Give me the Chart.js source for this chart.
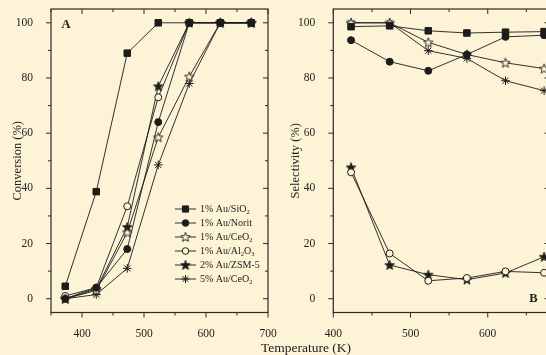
<!DOCTYPE html>
<html>
<head>
<meta charset="utf-8">
<script src="https://cdn.jsdelivr.net/npm/chart.js@4.4.1/dist/chart.umd.min.js"></script>
<style>
  html, body { margin: 0; padding: 0; width: 546px; height: 355px; overflow: hidden; background: #fdf3d6; }
  canvas { position: absolute; top: 0; }
  #chartA { left: 0; }
  #chartB { left: 280px; }
  #xTitle { position: absolute; left: 206px; width: 200px; top: 340.5px; text-align: center;
            font: 13.5px 'Liberation Serif', serif; line-height: 13.5px; color: #222; }
</style>
</head>
<body>
<canvas id="chartA" width="285" height="355"></canvas>
<canvas id="chartB" width="290" height="355"></canvas>
<div id="xTitle">Temperature (K)</div>
<script>
// Valores: conversão (A) e seletividade (B) vs temperatura
const tempA = [373, 423, 473, 523, 573, 623, 673];
const tempB = [423, 473, 523, 573, 623, 673];
const catalysts = ['1% Au/SiO_2', '1% Au/Norit', '1% Au/CeO_2', '1% Au/Al_2O_3', '2% Au/ZSM-5', '5% Au/CeO_2'];

const convSiO2 = [4.5, 38.8, 89, 100, 100, 100, 100];
const convNorit = [0, 4, 18, 64, 100, 100, 100];
const convCeO2 = [0, 3, 24, 58.5, 80.5, 100, 100];
const convAl2O3 = [1, 4, 33.5, 73, 100, 100, 100];
const convZSM5 = [0, 3.5, 26, 77, 100, 100, 100];
const conv5CeO2 = [0, 1.5, 11, 48.5, 78, 100, 100];

const selSiO2 = [98.6, 98.9, 97.1, 96.3, 96.6, 96.8];
const selNorit = [93.7, 85.9, 82.6, 88.5, 94.9, 95.5];
const selCeO2 = [100, 100, 92.9, 88.5, 85.5, 83.4];
const selAl2O3 = [45.8, 16.4, 6.5, 7.5, 9.9, 9.4];
const selZSM5 = [47.6, 12.2, 8.7, 6.9, 9.3, 15.2];
const sel5CeO2 = [100, 100, 89.9, 87.1, 79, 75.4];

const xTicksA = [400, 500, 600, 700];
const xTicksB = [400, 500, 600];
const yTicks = [0, 20, 40, 60, 80, 100];

const INK = '#1c1c1c';
const BG = '#fdf3d6';
const SERIF = "'Liberation Serif', 'Times New Roman', serif";

// estrela de 5 pontas (cheia ou vazada) como imagem de marcador
function makeStar(filled) {
  const c = document.createElement('canvas');
  c.width = c.height = 12;
  const g = c.getContext('2d');
  const cx = 6, cy = 6.4, R = 5, r = 2.1;
  g.beginPath();
  for (let i = 0; i < 10; i++) {
    const a = -Math.PI / 2 + i * Math.PI / 5;
    const rr = i % 2 ? r : R;
    g.lineTo(cx + rr * Math.cos(a), cy + rr * Math.sin(a));
  }
  g.closePath();
  g.fillStyle = filled ? INK : BG;
  g.fill();
  g.strokeStyle = INK;
  g.lineWidth = 0.9;
  g.stroke();
  return c;
}

const markers = [
  { pointStyle: 'rect', radius: 4.6, fill: INK },
  { pointStyle: 'circle', radius: 3.5, fill: INK },
  { pointStyle: makeStar(false), radius: 5, fill: BG },
  { pointStyle: 'circle', radius: 3.5, fill: BG },
  { pointStyle: makeStar(true), radius: 5, fill: INK },
  { pointStyle: 'star', radius: 4.3, fill: INK }
];

function buildDatasets(xs, series) {
  return series.map((ys, i) => ({
    label: catalysts[i],
    data: xs.map((x, j) => ({ x, y: ys[j] })),
    borderColor: INK,
    borderWidth: 0.9,
    pointStyle: markers[i].pointStyle,
    pointRadius: markers[i].radius,
    pointBackgroundColor: markers[i].fill,
    pointBorderColor: INK,
    pointBorderWidth: 1,
    tension: 0
  }));
}

// texto com subscrito simples: "_2" vira 2 subscrito
function drawRich(ctx, text, x, y, size) {
  let cx = x;
  for (let i = 0; i < text.length; i++) {
    if (text[i] === '_' && i + 1 < text.length) {
      ctx.font = `${size * 0.65}px ${SERIF}`;
      ctx.fillText(text[i + 1], cx, y + size * 0.3);
      cx += ctx.measureText(text[i + 1]).width;
      i++;
    } else {
      ctx.font = `${size}px ${SERIF}`;
      ctx.fillText(text[i], cx, y);
      cx += ctx.measureText(text[i]).width;
    }
  }
}

// moldura com marcas: fora em baixo/esquerda, dentro em cima/direita
const framePlugin = {
  id: 'frame',
  beforeDatasetsDraw(chart, args, opts) {
    const { ctx, chartArea: a } = chart;
    const xs = chart.scales.x, ys = chart.scales.y;
    ctx.save();
    ctx.strokeStyle = '#2a2a2a';
    ctx.lineWidth = 1.2;
    ctx.strokeRect(a.left, a.top, a.right - a.left, a.bottom - a.top);
    ctx.lineWidth = 1;
    ctx.beginPath();
    const xStep = 50;
    for (let v = Math.ceil(xs.min / xStep) * xStep; v <= xs.max; v += xStep) {
      const px = xs.getPixelForValue(v);
      const len = v % 100 === 0 ? 5 : 3;
      ctx.moveTo(px, a.bottom); ctx.lineTo(px, a.bottom + len);
      ctx.moveTo(px, a.top); ctx.lineTo(px, a.top + len);
    }
    for (let v = 0; v <= 100; v += 10) {
      const py = ys.getPixelForValue(v);
      const len = v % 20 === 0 ? 5 : 3;
      ctx.moveTo(a.left, py); ctx.lineTo(a.left - len, py);
      ctx.moveTo(a.right, py); ctx.lineTo(a.right - len, py);
    }
    ctx.stroke();
    ctx.restore();
  },
  afterDatasetsDraw(chart, args, opts) {
    const { ctx, chartArea: a } = chart;
    ctx.save();
    ctx.fillStyle = INK;
    ctx.font = `bold 12.5px ${SERIF}`;
    ctx.textAlign = 'center';
    ctx.textBaseline = 'middle';
    if (opts.label) ctx.fillText(opts.label, opts.corner === 'tl' ? a.left + 15 : a.right - 16, opts.corner === 'tl' ? a.top + 16 : a.bottom - 13.5);

    if (opts.legend) {
      const rowY = 209, dy = 14;
      ctx.textAlign = 'left';
      catalysts.forEach((name, i) => {
        const y = rowY + i * dy;
        ctx.strokeStyle = INK;
        ctx.lineWidth = 0.9;
        ctx.beginPath();
        ctx.moveTo(175, y); ctx.lineTo(196, y);
        ctx.stroke();
        ctx.fillStyle = markers[i].fill;
        ctx.strokeStyle = INK;
        ctx.lineWidth = 1;
        Chart.helpers.drawPoint(ctx, { pointStyle: markers[i].pointStyle, rotation: 0, radius: markers[i].radius * 0.95, borderWidth: 1 }, 185.5, y);
        ctx.fillStyle = INK;
        ctx.textBaseline = 'middle';
        drawRich(ctx, name, 200, y, 10);
      });
    }
    ctx.restore();
  }
};

function makeChart(id, xs, series, xMin, xMax, xTicks, yTitle, titlePad, rightPad, frameOpts) {
  return new Chart(document.getElementById(id), {
    type: 'line',
    data: { datasets: buildDatasets(xs, series) },
    options: {
      responsive: false,
      animation: false,
      devicePixelRatio: 1,
      layout: { padding: { top: 9, right: rightPad, left: 0, bottom: 0 } },
      plugins: { legend: { display: false }, tooltip: { enabled: false }, frame: frameOpts },
      scales: {
        x: {
          type: 'linear', min: xMin, max: xMax,
          afterBuildTicks: s => { s.ticks = xTicks.map(v => ({ value: v })); },
          afterFit: s => { s.height = 42.5; s.paddingLeft = 0; s.paddingRight = 0; s.paddingTop = 0; s.paddingBottom = 0; },
          grid: { display: false }, border: { display: false },
          ticks: { padding: 7, maxRotation: 0, color: '#222', font: { family: SERIF, size: 11.5 } }
        },
        y: {
          min: -5, max: 105,
          afterBuildTicks: s => { s.ticks = yTicks.map(v => ({ value: v })); },
          afterFit: s => { s.width = frameOpts.yWidth; s.paddingTop = 0; s.paddingBottom = 0; s.paddingLeft = 0; s.paddingRight = 0; },
          grid: { display: false }, border: { display: false },
          ticks: { padding: 10, color: '#222', font: { family: SERIF, size: 11.5 } },
          title: { display: true, text: yTitle, color: '#222', padding: { top: titlePad, bottom: 0 }, font: { family: SERIF, size: 12.5 } }
        }
      }
    },
    plugins: [framePlugin]
  });
}

makeChart('chartA', tempA, [convSiO2, convNorit, convCeO2, convAl2O3, convZSM5, conv5CeO2],
  350, 700, xTicksA, 'Conversion (%)', 10.5, 17, { label: 'A', corner: 'tl', legend: true, yWidth: 51 });
makeChart('chartB', tempB, [selSiO2, selNorit, selCeO2, selAl2O3, selZSM5, sel5CeO2],
  400, 680, xTicksB, 'Selectivity (%)', 8.5, 20.5, { label: 'B', corner: 'br', legend: false, yWidth: 53.3 });
</script>
</body>
</html>
